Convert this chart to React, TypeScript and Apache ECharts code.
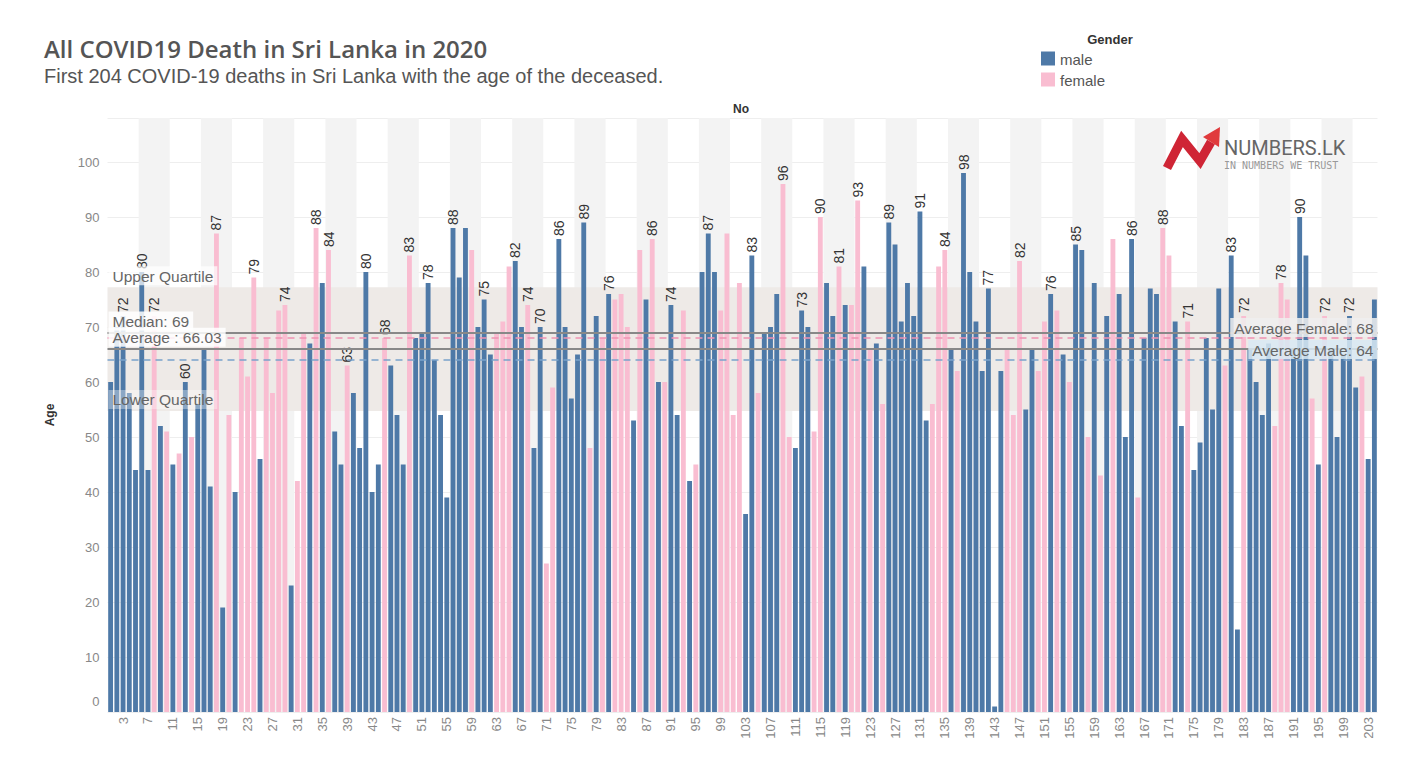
import React, { useEffect, useRef } from 'react';
import * as echarts from 'echarts';

// Age of each deceased, in order No 1..204
const ages: number[] = [
  60, 70, 72, 58, 44, 80, 44, 72, 52, 51,
  45, 47, 60, 50, 56, 66, 41, 87, 19, 54,
  40, 68, 61, 79, 46, 68, 58, 73, 74, 23,
  42, 69, 67, 88, 78, 84, 51, 45, 63, 58,
  48, 80, 40, 45, 68, 63, 54, 45, 83, 68,
  69, 78, 64, 54, 39, 88, 79, 88, 84, 70,
  75, 65, 69, 71, 81, 82, 70, 74, 48, 70,
  27, 59, 86, 70, 57, 65, 89, 48, 72, 68,
  76, 75, 76, 70, 53, 84, 75, 86, 60, 60,
  74, 54, 73, 42, 45, 80, 87, 80, 73, 87,
  54, 78, 36, 83, 58, 69, 70, 76, 96, 50,
  48, 73, 70, 51, 90, 78, 72, 81, 74, 74,
  93, 81, 66, 67, 56, 89, 85, 71, 78, 72,
  91, 53, 56, 81, 84, 66, 62, 98, 80, 71,
  62, 77, 1, 62, 66, 54, 82, 55, 66, 62,
  71, 76, 73, 65, 60, 85, 84, 50, 78, 43,
  72, 86, 76, 50, 86, 39, 68, 77, 76, 88,
  83, 71, 52, 71, 44, 49, 68, 55, 77, 63,
  83, 15, 72, 66, 60, 54, 67, 52, 78, 75,
  66, 90, 83, 57, 45, 72, 66, 50, 65, 72,
  59, 61, 46, 75,
];

// Gender of each deceased (m = male, f = female), groups of ten
const genderGroups: string[] = [
  'mmmmmmmfmf', 'mfmfmmmfmf', 'mfffmffffm', 'ffmfmfmmfm', 'mmmmfmmmfm',
  'mmmmmmmmfm', 'mmfffmmfmm', 'ffmmmmmfmf', 'mfffmfmfmf', 'mmfmfmmmff',
  'ffmmfmmmff', 'mmmffmmfmf', 'fmfmfmmmmm', 'mmfffmfmmm', 'mmmmfffmmf',
  'fmfmfmmfmf', 'mfmmmfmmmf', 'fmmfmmmmmf', 'mmfmmmmfff', 'mmmfmfmmmm',
  'mfmm',
];
const genders: string[] = genderGroups.join('').split('');

// Bars (No) that carry a value label
const labeledBars: number[] = [
  3, 6, 8, 13, 18, 24, 29, 34, 36, 39, 42, 45, 49, 52, 56, 61, 66, 68, 70, 73,
  77, 81, 88, 91, 97, 104, 109, 112, 115, 118, 121, 126, 131, 135, 138, 142,
  147, 152, 156, 165, 170, 174, 181, 183, 189, 192, 196, 200,
];

// Reference values
const MEDIAN = 69;
const AVERAGE = 66.03;
const AVG_FEMALE = 68;
const AVG_MALE = 64;
const UPPER_Q = 77.25;
const LOWER_Q = 54.75;

const MALE = '#4e79a7';
const FEMALE = '#f9bdd1';
const FONT = '"Liberation Sans", Arial, sans-serif';

export default function App() {
  const ref = useRef<HTMLDivElement>(null);

  useEffect(() => {
    const chart = echarts.init(ref.current!, undefined, { renderer: 'svg' });
    const categories = ages.map((_, i) => String(i + 1));

    const bandAreas: any[] = [];
    for (let s = 6; s <= ages.length; s += 10) {
      bandAreas.push([{ xAxis: s - 0.5 }, { xAxis: Math.min(s + 4.5, ages.length + 0.5) }]);
    }

    const lineLabel = {
      show: true,
      color: '#666',
      fontSize: 15.5,
      fontFamily: FONT,
      padding: [2, 4, 1, 4],
    };
    const hidden = { width: 0, color: 'rgba(0,0,0,0)' };

    const option: any = {
      animation: false,
      backgroundColor: '#ffffff',
      title: [
        {
          text: 'All COVID19 Death in Sri Lanka in 2020',
          left: 44,
          top: 36,
          padding: 0,
          textStyle: { fontSize: 24, fontWeight: 600, color: '#555', fontFamily: '"Open Sans", sans-serif' },
        },
        {
          text: 'First 204 COVID-19 deaths in Sri Lanka with the age of the deceased.',
          left: 44,
          top: 66,
          padding: 0,
          textStyle: { fontSize: 20, fontWeight: 'normal', color: '#555', fontFamily: FONT },
        },
      ],
      grid: { left: 107.5, right: 42.5, top: 118, bottom: 72, containLabel: false },
      xAxis: [
        {
          type: 'category',
          data: categories,
          axisLine: { show: false },
          axisTick: { show: false },
          axisLabel: {
            interval: (i: number) => i % 4 === 2,
            rotate: 90,
            color: '#888',
            fontSize: 13,
            fontFamily: FONT,
            margin: 5,
          },
          splitLine: { show: false },
        },
        {
          type: 'value',
          min: 0.5,
          max: ages.length + 0.5,
          show: false,
        },
      ],
      yAxis: {
        type: 'value',
        min: 0,
        max: 108,
        interval: 10,
        name: 'Age',
        nameLocation: 'middle',
        nameGap: 52,
        nameTextStyle: { fontSize: 12, fontWeight: 'bold', color: '#333', fontFamily: FONT },
        axisLine: { show: false },
        axisTick: { show: false },
        axisLabel: {
          color: '#888',
          fontSize: 13,
          fontFamily: FONT,
          margin: 8,
          formatter: (v: number) => (v === 0 ? '{z|0}' : v % 10 === 0 && v <= 100 ? String(v) : ''),
          rich: { z: { color: '#888', fontSize: 13, fontFamily: FONT, padding: [0, 0, 22, 0] } },
        },
        splitLine: { lineStyle: { color: '#eeeeee', width: 1 } },
      },
      series: [
        {
          type: 'line',
          xAxisIndex: 1,
          data: [[1, 0]],
          symbol: 'none',
          lineStyle: { opacity: 0 },
          silent: true,
          z: 0,
          markArea: { silent: true, itemStyle: { color: '#f3f3f3' }, data: bandAreas },
        },
        {
          type: 'line',
          xAxisIndex: 1,
          data: [[1, 0]],
          symbol: 'none',
          lineStyle: { opacity: 0 },
          silent: true,
          z: 1,
          markArea: {
            silent: true,
            itemStyle: { color: '#eeeae7' },
            data: [[{ yAxis: LOWER_Q }, { yAxis: UPPER_Q }]],
          },
        },
        {
          type: 'bar',
          z: 3,
          barWidth: '78%',
          data: ages.map((v, i) => ({
            value: v,
            itemStyle: { color: genders[i] === 'm' ? MALE : FEMALE },
            label: { show: labeledBars.includes(i + 1) },
          })),
          label: {
            show: false,
            position: 'top',
            rotate: 90,
            align: 'left',
            verticalAlign: 'middle',
            distance: 3,
            fontSize: 14,
            color: '#333',
            fontFamily: FONT,
          },
          markLine: {
            silent: true,
            symbol: ['none', 'none'],
            data: [
              {
                yAxis: UPPER_Q,
                lineStyle: hidden,
                label: { ...lineLabel, formatter: 'Upper Quartile', position: 'insideStartTop', distance: [1, 2], backgroundColor: 'rgba(255,255,255,0.7)' },
              },
              {
                yAxis: LOWER_Q,
                lineStyle: hidden,
                label: { ...lineLabel, formatter: 'Lower Quartile', position: 'insideStartTop', distance: [1, 2], backgroundColor: 'rgba(255,255,255,0.35)' },
              },
              {
                yAxis: MEDIAN,
                lineStyle: { color: '#888', width: 2, type: 'solid' },
                label: { ...lineLabel, formatter: 'Median: ' + MEDIAN, position: 'insideStartTop', distance: [1, 2], backgroundColor: 'rgba(255,255,255,0.85)' },
              },
              {
                yAxis: AVERAGE,
                lineStyle: { color: '#888', width: 2, type: 'solid' },
                label: { ...lineLabel, formatter: 'Average : ' + AVERAGE.toFixed(2), position: 'insideStartTop', distance: [1, 2], backgroundColor: 'rgba(255,255,255,0.85)' },
              },
              {
                yAxis: AVG_FEMALE,
                lineStyle: { color: '#ef93b3', width: 1.5, type: [7, 5] },
                label: { ...lineLabel, formatter: 'Average Female: ' + AVG_FEMALE, position: 'insideEndTop', distance: [0, 1], backgroundColor: 'rgba(238,238,238,0.85)' },
              },
              {
                yAxis: AVG_MALE,
                lineStyle: { color: '#7aa3cb', width: 1.5, type: [7, 5] },
                label: { ...lineLabel, formatter: 'Average Male: ' + AVG_MALE, position: 'insideEndTop', distance: [0, 1], backgroundColor: 'rgba(216,233,243,0.85)' },
              },
            ],
          },
        },
      ],
      graphic: [
        { type: 'text', x: 741, y: 109, style: { text: 'No', fill: '#333', font: 'bold 12px ' + FONT, textAlign: 'center', textVerticalAlign: 'middle' } },
        { type: 'text', x: 1110, y: 39, style: { text: 'Gender', fill: '#333', font: 'bold 13px ' + FONT, textAlign: 'center', textVerticalAlign: 'middle' } },
        { type: 'rect', shape: { x: 1041, y: 51.5, width: 14, height: 14 }, style: { fill: MALE } },
        { type: 'rect', shape: { x: 1041, y: 72.5, width: 14, height: 14 }, style: { fill: FEMALE } },
        { type: 'text', x: 1060, y: 59, style: { text: 'male', fill: '#555', font: '15px ' + FONT, textAlign: 'left', textVerticalAlign: 'middle' } },
        { type: 'text', x: 1060, y: 80, style: { text: 'female', fill: '#555', font: '15px ' + FONT, textAlign: 'left', textVerticalAlign: 'middle' } },
        {
          type: 'polyline',
          shape: { points: [[1167, 168], [1182, 139], [1200, 161], [1211, 142]] },
          style: { stroke: '#cf2535', lineWidth: 9, fill: null, lineJoin: 'miter', lineCap: 'butt' },
          z: 10,
        },
        {
          type: 'polygon',
          shape: { points: [[1203, 137], [1220, 127], [1219, 147]] },
          style: { fill: '#e03a3c' },
          z: 10,
        },
        { type: 'text', x: 1224, y: 148, style: { text: 'NUMBERS.LK', fill: '#666', font: '20px Roboto, sans-serif', textAlign: 'left', textVerticalAlign: 'middle' }, z: 10 },
        { type: 'text', x: 1224, y: 165, style: { text: 'IN NUMBERS WE TRUST', fill: '#999', font: '10px "DejaVu Sans Mono", monospace', textAlign: 'left', textVerticalAlign: 'middle' }, z: 10 },
      ],
    };

    chart.setOption(option);
    return () => chart.dispose();
  }, []);

  return <div ref={ref} style={{ position: 'absolute', left: 0, top: 0, width: 1420, height: 784 }} />;
}
